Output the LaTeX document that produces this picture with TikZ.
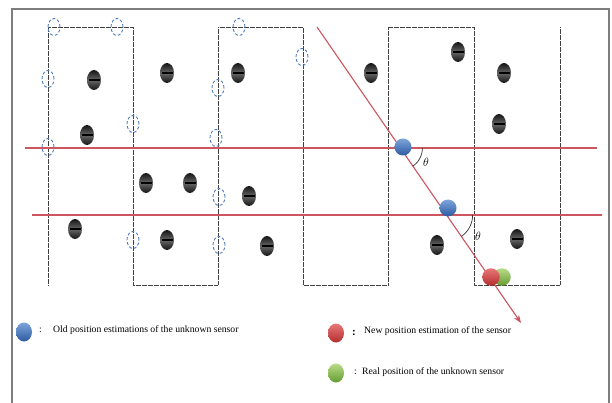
\documentclass[tikz,border=0pt]{standalone}
\usepackage{fontspec}
\setmainfont{Liberation Serif}
\usetikzlibrary{shapes.geometric,arrows.meta}
\definecolor{lred}{RGB}{205,85,95}
\definecolor{frameg}{RGB}{125,125,125}
\definecolor{dashblue}{RGB}{80,125,190}
\begin{document}
\begin{tikzpicture}[x=1pt,y=-1pt,
  meander/.style={draw=black!75,line width=0.9pt,dash pattern=on 0.4pt off 0.8pt},
  redline/.style={draw=lred,line width=1.1pt},
  sensor/.style={ellipse,inner sep=0pt,minimum width=14pt,minimum height=20pt,
    top color=black!92,bottom color=black!92,middle color=black!60,
    path picture={\draw[black,line width=1.1pt] ([xshift=1.5pt]path picture bounding box.west) -- ([xshift=-1.5pt]path picture bounding box.east);}},
  ghost/.style={ellipse,inner sep=0pt,minimum width=12pt,minimum height=17pt,draw=dashblue,line width=0.9pt,dash pattern=on 3pt off 2pt},
  bluedot/.style={circle,inner sep=0pt,minimum size=17pt,top color={rgb,255:red,125;green,165;blue,220},bottom color={rgb,255:red,45;green,90;blue,160}},
  reddot/.style={circle,inner sep=0pt,minimum size=17.5pt,top color={rgb,255:red,232;green,120;blue,120},bottom color={rgb,255:red,180;green,45;blue,45}},
  greendot/.style={circle,inner sep=0pt,minimum size=17.5pt,top color={rgb,255:red,185;green,220;blue,135},bottom color={rgb,255:red,100;green,155;blue,50}},
  legdot/.style={ellipse,inner sep=0pt,minimum width=16pt,minimum height=19pt},
  legtext/.style={anchor=west,inner sep=0pt,font=\fontsize{9.7}{11}\selectfont},
  angtext/.style={font=\fontsize{12.5}{13}\selectfont}
]
\useasboundingbox (0,0) rectangle (612,403);
\fill[white] (0,0) rectangle (612,403);
% frame
\draw[frameg,line width=1.6pt] (12,403) -- (12,9) -- (609,9) -- (609,403);
% meander of dotted lines
\draw[meander] (48,285) -- (48,27) -- (133,27) -- (133,285) -- (218,285) -- (218,27)
  -- (303,27) -- (303,285) -- (388,285) -- (388,27) -- (474,27) -- (474,285)
  -- (560,285) -- (560,27);
% red horizontal lines
\coordinate (h1a) at (25,148); \coordinate (h1b) at (597,148);
\coordinate (h2a) at (32,215); \coordinate (h2b) at (602,215);
\draw[redline] (h1a) -- (h1b);
\draw[redline] (h2a) -- (h2b);
% diagonal
\coordinate (dS) at (317,27); \coordinate (dT) at (521,323);
\draw[redline,-{Stealth[length=8pt,width=6pt]}] (dS) -- (dT);
% angles
\draw[black!80,line width=0.7pt] plot[domain=0:55.4,samples=25] ({400.4+22*cos(\x)},{148+22*sin(\x)});
\draw[black!80,line width=0.7pt] plot[domain=0:55.4,samples=25] ({446.6+26*cos(\x)},{215+26*sin(\x)});
\node[angtext] (th1) at (426,162) {$\theta$};
\node[angtext] (th2) at (478,236) {$\theta$};
% ghost (old) positions, dashed
\foreach \n/\x/\y in {g1/54/27, g2/117/27, g3/48/79, g4/48/147, g5/133/124, g6/218/88,
  g7/216/138, g8/239/27, g9/302/57, g10/219/197, g11/133/240, g12/219/245}
  \node[ghost] (\n) at (\x,\y) {};
% anchor sensors
\foreach \n/\x/\y in {s1/94/80, s2/87/135, s3/167/73, s4/238/73, s5/146/183, s6/190/183,
  s7/249/196, s8/75/229, s9/167/240, s10/267/246, s11/371/73, s12/458/52, s13/504/73,
  s14/499/124, s15/437/245, s16/517/239}
  \node[sensor] (\n) at (\x,\y) {};
% estimates
\node[bluedot] (b1) at (403,147) {};
\node[bluedot] (b2) at (448,208) {};
\node[greendot] (gr) at (502,277) {};
\node[reddot] (rd) at (491,277) {};
% legend
\node[legdot,top color={rgb,255:red,125;green,165;blue,220},bottom color={rgb,255:red,45;green,90;blue,160}] (lb) at (24,332) {};
\node[legtext] (lbc) at (39,330) {:};
\node[legtext] (lbt) at (53,330) {Old position estimations of the unknown sensor};
\node[legdot,top color={rgb,255:red,232;green,120;blue,120},bottom color={rgb,255:red,180;green,45;blue,45}] (lr) at (336,333) {};
\node[legtext,font=\fontsize{11}{12}\selectfont\bfseries] (lrc) at (352,333) {:};
\node[legtext] (lrt) at (364,331) {New position estimation of the sensor};
\node[legdot,top color={rgb,255:red,185;green,220;blue,135},bottom color={rgb,255:red,100;green,155;blue,50}] (lg) at (336,373) {};
\node[legtext] (lgc) at (354,372) {:};
\node[legtext] (lgt) at (362,372) {Real position of the unknown sensor};
\end{tikzpicture}
\end{document}
